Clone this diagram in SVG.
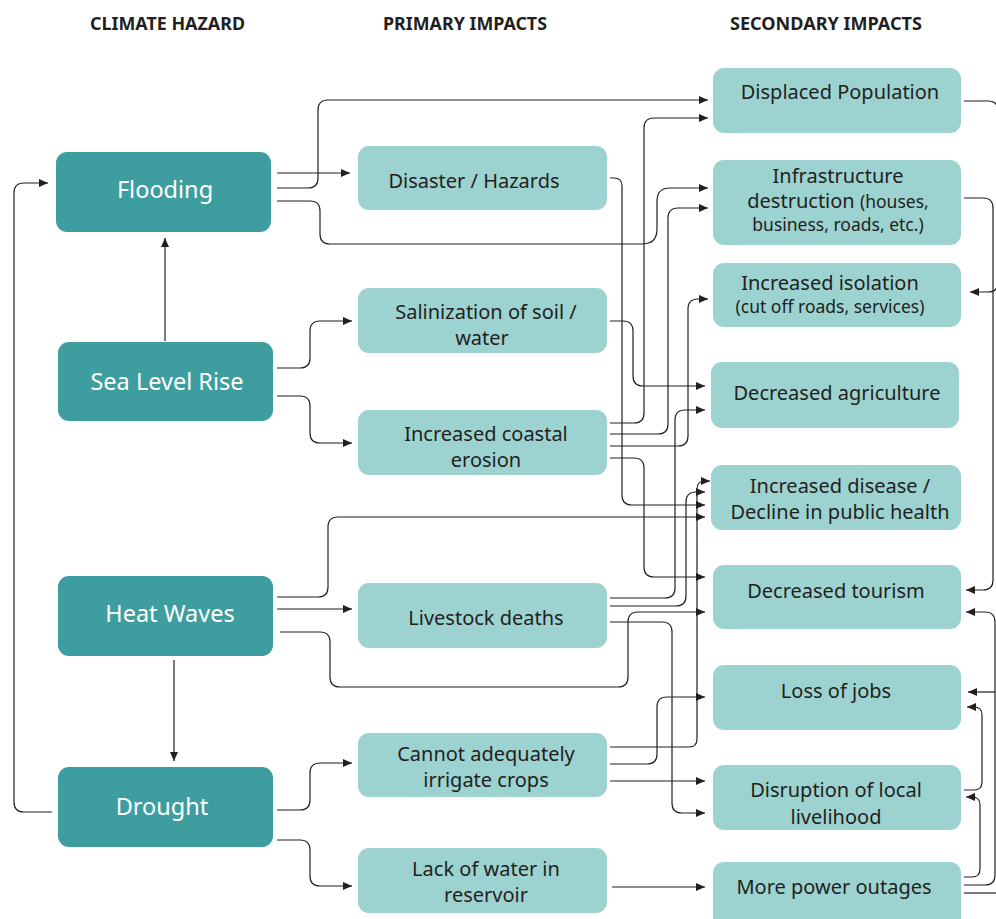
<svg xmlns="http://www.w3.org/2000/svg" width="996" height="919" viewBox="0 0 996 919">
<style>
.hdr{font-family:"Noto Sans","Open Sans",sans-serif;font-weight:bold;font-size:17px;fill:#231F20}
.dk{fill:#3E9E9F}
.lt{fill:#9CD2D0}
.dt{font-family:"Noto Sans","Open Sans",sans-serif;font-size:23.5px;fill:#FFFFFF;text-anchor:middle}
.lx{font-family:"Noto Sans","Open Sans",sans-serif;font-size:20px;fill:#231F20;text-anchor:middle}
.sm{font-size:17.5px}
.c path{fill:none;stroke:#231F20;stroke-width:1.2;marker-end:url(#ah)}
.c path.n{marker-end:none}
</style>
<defs>
<marker id="ah" markerUnits="userSpaceOnUse" markerWidth="10" markerHeight="8" refX="9" refY="4" orient="auto">
<path d="M0,0 L9,4 L0,8 z" fill="#231F20"/>
</marker>
</defs>
<rect width="996" height="919" fill="#FFFFFF"/>
<g id="headers">
<text class="hdr" x="90" y="30" textLength="155" lengthAdjust="spacingAndGlyphs">CLIMATE HAZARD</text>
<text class="hdr" x="383" y="30" textLength="164" lengthAdjust="spacingAndGlyphs">PRIMARY IMPACTS</text>
<text class="hdr" x="730" y="30" textLength="192" lengthAdjust="spacingAndGlyphs">SECONDARY IMPACTS</text>
</g>
<g class="c" id="connectors">
<path d="M277,173 H350"/>
<path d="M277,188 H308 Q318,188 318,178 V110 Q318,100 328,100 H708"/>
<path d="M277,201 H310 Q320,201 320,211 V234 Q320,244 330,244 H642 Q657,244 657,229 V201 Q657,188 670,188 H708"/>
<path d="M277,368 H300 Q310,368 310,358 V331 Q310,321 320,321 H352"/>
<path d="M277,396 H300 Q310,396 310,406 V433 Q310,443 320,443 H352"/>
<path d="M165,341 V238"/>
<path d="M277,597 H318 Q328,597 328,587 V527 Q328,517 338,517 H705"/>
<path d="M277,609 H352"/>
<path d="M280,632 H320 Q330,632 330,642 V677 Q330,687 340,687 H618 Q628,687 628,677 V622 Q628,612 638,612 H705"/>
<path d="M174,660 V761"/>
<path d="M52,812 H24 Q14,812 14,802 V193 Q14,183 24,183 H48"/>
<path d="M277,810 H300 Q310,810 310,800 V773 Q310,763 320,763 H352"/>
<path d="M277,840 H300 Q310,840 310,850 V876 Q310,886 320,886 H352"/>
<path d="M610,178 H614 Q622,178 622,186 V495 Q622,505 632,505 H705"/>
<path d="M610,321 H623 Q633,321 633,331 V376 Q633,386 643,386 H705"/>
<path d="M610,423 H634 Q644,423 644,413 V128 Q644,118 654,118 H708"/>
<path d="M610,434 H658 Q668,434 668,424 V218 Q668,208 678,208 H708"/>
<path d="M610,446 H678 Q688,446 688,436 V309 Q688,299 698,299 H708"/>
<path d="M610,458 H634 Q644,458 644,468 V567 Q644,577 654,577 H705"/>
<path d="M610,598 H665 Q675,598 675,588 V420 Q675,410 685,410 H705"/>
<path d="M610,606 H676 Q686,606 686,596 V502 Q686,492 696,492 H705"/>
<path d="M610,622 H662 Q672,622 672,632 V803 Q672,813 682,813 H705"/>
<path d="M610,747 H689 Q697,747 697,739 V489 Q697,481 705,481 H710"/>
<path d="M610,764 H647 Q657,764 657,754 V707 Q657,697 667,697 H705"/>
<path d="M610,781 H705"/>
<path d="M612,887 H705"/>
<path d="M964,101 H988 Q998,101 998,111 V282 Q998,292 988,292 H970"/>
<path d="M964,198 H983 Q993,198 993,208 V580 Q993,590 983,590 H966"/>
<path d="M964,885 H985 Q995,885 995,875 V622 Q995,612 985,612 H966"/>
<path d="M995,692 H968"/>
<path d="M964,790 H974 Q982,790 982,782 V715 Q982,707 974,707 H967"/>
<path d="M964,877 H972 Q980,877 980,869 V805 Q980,797 972,797 H966"/>
<path class="n" d="M964,893 H996"/>
</g>
<g id="flooding"><rect class="dk" x="56" y="152" width="215" height="80" rx="11"/><text class="dt" x="165" y="198">Flooding</text></g>
<g id="sea-level-rise"><rect class="dk" x="58" y="342" width="215" height="79" rx="11"/><text class="dt" x="167" y="390">Sea Level Rise</text></g>
<g id="heat-waves"><rect class="dk" x="58" y="576" width="215" height="80" rx="11"/><text class="dt" x="170" y="622">Heat Waves</text></g>
<g id="drought"><rect class="dk" x="58" y="767" width="215" height="80" rx="11"/><text class="dt" x="162" y="815">Drought</text></g>
<g id="disaster"><rect class="lt" x="358" y="146" width="249" height="64" rx="11"/><text class="lx" x="474" y="188">Disaster / Hazards</text></g>
<g id="salinization"><rect class="lt" x="358" y="288" width="249" height="65" rx="11"/><text class="lx" x="486" y="319">Salinization of soil /</text><text class="lx" x="482" y="345">water</text></g>
<g id="coastal-erosion"><rect class="lt" x="358" y="410" width="249" height="65" rx="11"/><text class="lx" x="486" y="441">Increased coastal</text><text class="lx" x="486" y="467">erosion</text></g>
<g id="livestock"><rect class="lt" x="358" y="583" width="249" height="65" rx="11"/><text class="lx" x="486" y="625">Livestock deaths</text></g>
<g id="irrigate"><rect class="lt" x="358" y="733" width="249" height="64" rx="11"/><text class="lx" x="486" y="761">Cannot adequately</text><text class="lx" x="486" y="787">irrigate crops</text></g>
<g id="reservoir"><rect class="lt" x="358" y="848" width="249" height="65" rx="11"/><text class="lx" x="486" y="876">Lack of water in</text><text class="lx" x="486" y="902">reservoir</text></g>
<g id="displaced"><rect class="lt" x="713" y="68" width="248" height="65" rx="11"/><text class="lx" x="840" y="99">Displaced Population</text></g>
<g id="infrastructure"><rect class="lt" x="713" y="160" width="248" height="85" rx="11"/><text class="lx" x="838" y="183">Infrastructure</text><text class="lx" x="838" y="208">destruction <tspan class="sm">(houses,</tspan></text><text class="lx sm" x="838" y="231">business, roads, etc.)</text></g>
<g id="isolation"><rect class="lt" x="713" y="263" width="248" height="64" rx="11"/><text class="lx" x="830" y="290">Increased isolation</text><text class="lx sm" x="830" y="313">(cut off roads, services)</text></g>
<g id="agriculture"><rect class="lt" x="711" y="362" width="248" height="66" rx="11"/><text class="lx" x="837" y="400">Decreased agriculture</text></g>
<g id="disease"><rect class="lt" x="711" y="465" width="250" height="65" rx="11"/><text class="lx" x="840" y="493">Increased disease /</text><text class="lx" x="840" y="519">Decline in public health</text></g>
<g id="tourism"><rect class="lt" x="713" y="565" width="248" height="64" rx="11"/><text class="lx" x="836" y="598">Decreased tourism</text></g>
<g id="jobs"><rect class="lt" x="713" y="665" width="248" height="65" rx="11"/><text class="lx" x="836" y="698">Loss of jobs</text></g>
<g id="livelihood"><rect class="lt" x="713" y="765" width="248" height="65" rx="11"/><text class="lx" x="836" y="797">Disruption of local</text><text class="lx" x="836" y="824">livelihood</text></g>
<g id="power"><rect class="lt" x="713" y="862" width="248" height="70" rx="11"/><text class="lx" x="834" y="894">More power outages</text></g>
</svg>
